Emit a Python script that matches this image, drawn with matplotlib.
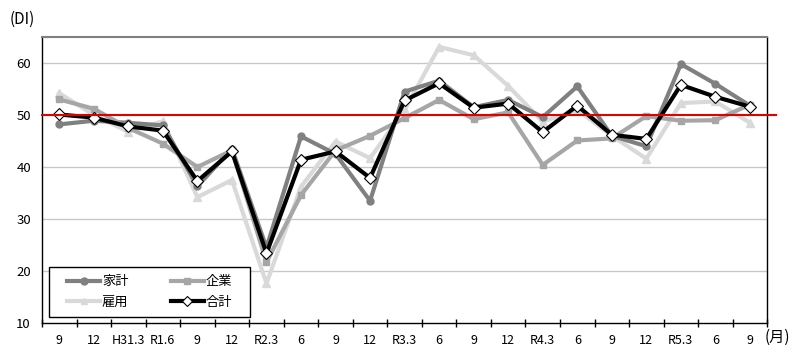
import matplotlib
matplotlib.use("Agg")
import matplotlib.pyplot as plt
from matplotlib.patches import Rectangle

plt.rcParams['font.family'] = ['Noto Sans CJK JP', 'DejaVu Sans']

labels = ["9", "12", "H31.3", "R1.6", "9", "12", "R2.3", "6", "9", "12", "R3.3",
          "6", "9", "12", "R4.3", "6", "9", "12", "R5.3", "6", "9"]
kakei = [48.2, 48.9, 48.5, 48.0, 36.3, 43.5, 24.5, 45.9, 42.5, 33.5, 54.5,
         56.6, 51.5, 52.9, 49.6, 55.5, 46.0, 44.0, 59.8, 56.0, 51.8]
kigyo = [53.0, 51.2, 47.5, 44.5, 40.0, 43.2, 21.7, 34.6, 43.2, 46.0, 49.4,
         52.9, 49.2, 50.5, 40.4, 45.1, 45.5, 49.8, 48.9, 49.0, 52.0]
koyo = [54.2, 50.0, 46.8, 48.8, 34.2, 37.5, 17.6, 36.2, 44.9, 41.7, 51.0,
        63.1, 61.5, 55.6, 48.7, 51.0, 46.0, 41.6, 52.3, 52.6, 48.5]
gokei = [50.1, 49.5, 47.8, 47.0, 37.3, 43.0, 23.4, 41.4, 43.0, 37.9, 52.8,
         56.1, 51.4, 52.2, 46.7, 51.8, 46.2, 45.4, 55.8, 53.5, 51.6]
names = ["家計", "企業", "雇用", "合計"]

fig = plt.figure(figsize=(8, 3.56), dpi=100)
ax = fig.add_axes([0.0525, 0.0927, 0.9065, 0.8033])

x = list(range(len(labels)))
ax.set_xlim(-0.5, len(labels) - 0.5)
ax.set_ylim(10, 65)

for yv in [20, 30, 40, 60]:
    ax.axhline(yv, color="#c8c8c8", lw=1.0, zorder=1)

l1, = ax.plot(x, kakei, color="#808080", lw=3, marker="o", ms=5, zorder=3, label=names[0])
l2, = ax.plot(x, kigyo, color="#a6a6a6", lw=3, marker="s", ms=5, zorder=3, label=names[1])
l3, = ax.plot(x, koyo, color="#d9d9d9", lw=3, marker="^", ms=6, zorder=2.5, label=names[2])
l4, = ax.plot(x, gokei, color="black", lw=3, marker="D", ms=6, mfc="white",
              mec="black", mew=0.8, zorder=4, label=names[3])

ax.plot([-0.5, 20.75], [50, 50], color="#e00000", lw=1.5, zorder=5, clip_on=False)

ax.set_yticks([10, 20, 30, 40, 50, 60])
ax.tick_params(axis="y", length=0, labelsize=9.5, pad=8)
ax.set_xticks([i + 0.5 for i in range(-1, len(labels))], minor=False)
ax.set_xticklabels([])
ax.set_xticks(x, minor=True)
ax.set_xticklabels(labels, minor=True)
ax.tick_params(axis="x", which="major", direction="inout", length=6, width=1)
ax.tick_params(axis="x", which="minor", length=0, labelsize=9, pad=8)

ax.spines["top"].set_color("#808080")
ax.spines["top"].set_linewidth(1.5)
for s in ["left", "right", "bottom"]:
    ax.spines[s].set_color("black")
    ax.spines[s].set_linewidth(1.0)

# legend frame
ax.add_patch(Rectangle((0.0097, 0.021), 0.2773, 0.175, transform=ax.transAxes,
                       facecolor="white", edgecolor="black", lw=1.0, zorder=6))
leg = ax.legend(handles=[l1, l3, l2, l4], ncol=2, loc="center",
                bbox_to_anchor=(0.0097 + 0.2773 / 2, 0.021 + 0.175 / 2),
                fontsize=9.5, frameon=False, handlelength=2.5,
                handletextpad=0.15, columnspacing=3.2, borderpad=0.2,
                labelspacing=0.55)
leg.set_zorder(7)
for h in leg.legend_handles:
    h.set_markersize(5)

fig.text(0.012, 0.945, "(DI)", fontsize=11, ha="left", va="center")
fig.text(0.956, 0.053, "(月)", fontsize=11, ha="left", va="center")

fig.savefig("out.png", dpi=100)
